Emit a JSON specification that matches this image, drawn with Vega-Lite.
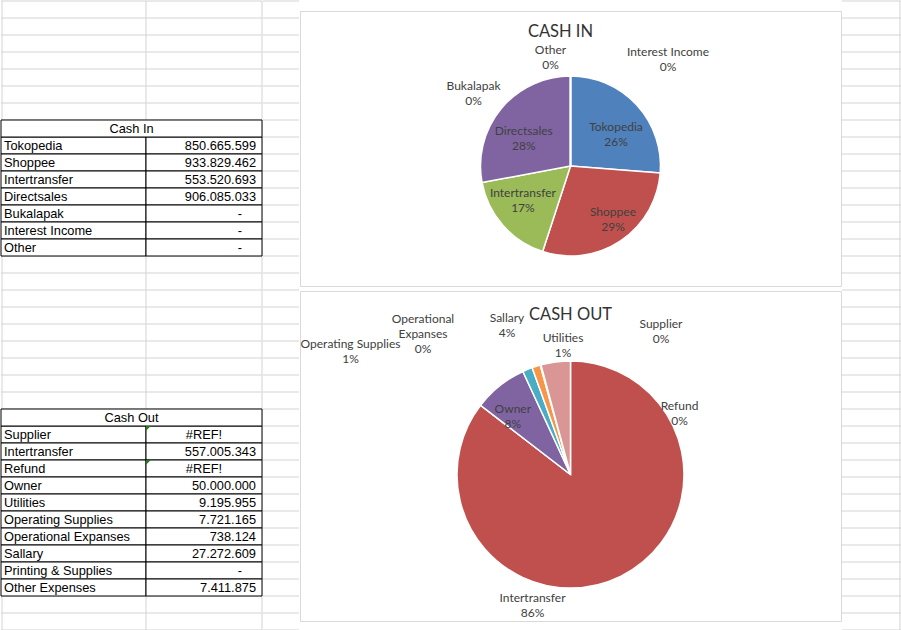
{
  "$schema": "https://vega.github.io/schema/vega-lite/v6.json",
  "background": "white",
  "padding": 0,
  "spacing": 0,
  "datasets": {
    "cash": [
      {"table": "Cash In", "item": "Cash In", "kind": "header", "value": "", "pct": "", "inChart": false},
      {"table": "Cash In", "item": "Tokopedia", "kind": "row", "value": "850.665.599", "amount": 850665599, "pct": "26%", "inChart": true},
      {"table": "Cash In", "item": "Shoppee", "kind": "row", "value": "933.829.462", "amount": 933829462, "pct": "29%", "inChart": true},
      {"table": "Cash In", "item": "Intertransfer", "kind": "row", "value": "553.520.693", "amount": 553520693, "pct": "17%", "inChart": true},
      {"table": "Cash In", "item": "Directsales", "kind": "row", "value": "906.085.033", "amount": 906085033, "pct": "28%", "inChart": true},
      {"table": "Cash In", "item": "Bukalapak", "kind": "row", "value": "-", "amount": 0, "pct": "0%", "inChart": true},
      {"table": "Cash In", "item": "Interest Income", "kind": "row", "value": "-", "amount": 0, "pct": "0%", "inChart": true},
      {"table": "Cash In", "item": "Other", "kind": "row", "value": "-", "amount": 0, "pct": "0%", "inChart": true},
      {"table": "Cash Out", "item": "Cash Out", "kind": "header", "value": "", "pct": "", "inChart": false},
      {"table": "Cash Out", "item": "Supplier", "kind": "row", "value": "#REF!", "amount": 0, "pct": "0%", "inChart": true},
      {"table": "Cash Out", "item": "Intertransfer", "kind": "row", "value": "557.005.343", "amount": 557005343, "pct": "86%", "inChart": true},
      {"table": "Cash Out", "item": "Refund", "kind": "row", "value": "#REF!", "amount": 0, "pct": "0%", "inChart": true},
      {"table": "Cash Out", "item": "Owner", "kind": "row", "value": "50.000.000", "amount": 50000000, "pct": "8%", "inChart": true},
      {"table": "Cash Out", "item": "Utilities", "kind": "row", "value": "9.195.955", "amount": 9195955, "pct": "1%", "inChart": true},
      {"table": "Cash Out", "item": "Operating Supplies", "kind": "row", "value": "7.721.165", "amount": 7721165, "pct": "1%", "inChart": true},
      {"table": "Cash Out", "item": "Operational Expanses", "kind": "row", "value": "738.124", "amount": 738124, "pct": "0%", "inChart": true},
      {"table": "Cash Out", "item": "Sallary", "kind": "row", "value": "27.272.609", "amount": 27272609, "pct": "4%", "inChart": true},
      {"table": "Cash Out", "item": "Printing & Supplies", "kind": "row", "value": "-", "amount": 0, "pct": "", "inChart": false},
      {"table": "Cash Out", "item": "Other Expenses", "kind": "row", "value": "7.411.875", "amount": 7411875, "pct": "", "inChart": false}
    ],
    "sheetRows": [
      {"key": "b1"}, {"key": "b2"}, {"key": "b3"}, {"key": "b4"}, {"key": "b5"}, {"key": "b6"}, {"key": "b7"},
      {"key": "Cash In: Cash In"}, {"key": "Cash In: Tokopedia"}, {"key": "Cash In: Shoppee"}, {"key": "Cash In: Intertransfer"}, {"key": "Cash In: Directsales"}, {"key": "Cash In: Bukalapak"}, {"key": "Cash In: Interest Income"}, {"key": "Cash In: Other"},
      {"key": "b8"}, {"key": "b9"}, {"key": "b10"}, {"key": "b11"}, {"key": "b12"}, {"key": "b13"}, {"key": "b14"}, {"key": "b15"}, {"key": "b16"},
      {"key": "Cash Out: Cash Out"}, {"key": "Cash Out: Supplier"}, {"key": "Cash Out: Intertransfer"}, {"key": "Cash Out: Refund"}, {"key": "Cash Out: Owner"}, {"key": "Cash Out: Utilities"}, {"key": "Cash Out: Operating Supplies"}, {"key": "Cash Out: Operational Expanses"}, {"key": "Cash Out: Sallary"}, {"key": "Cash Out: Printing & Supplies"}, {"key": "Cash Out: Other Expenses"},
      {"key": "b17"}, {"key": "b18"}
    ]
  },
  "config": {
    "view": {"stroke": null},
    "text": {"font": "Lato", "fontSize": 12, "color": "#404040", "lineBreak": "\n", "lineHeight": 15, "baseline": "middle"}
  },
  "resolve": {"scale": {"color": "independent", "x": "independent", "y": "independent"}},
  "hconcat": [
    {
      "width": 261,
      "height": 629,
      "layer": [
        {"data": {"name": "sheetRows"},
          "mark": {"type": "tick", "orient": "horizontal", "size": 261, "thickness": 1, "color": "#D4D4D4", "opacity": 1},
          "encoding": {"y": {"field": "key", "type": "nominal", "bandPosition": 0,
            "scale": {"type": "band", "paddingInner": 0, "paddingOuter": 0, "domain": ["b1","b2","b3","b4","b5","b6","b7","Cash In: Cash In","Cash In: Tokopedia","Cash In: Shoppee","Cash In: Intertransfer","Cash In: Directsales","Cash In: Bukalapak","Cash In: Interest Income","Cash In: Other","b8","b9","b10","b11","b12","b13","b14","b15","b16","Cash Out: Cash Out","Cash Out: Supplier","Cash Out: Intertransfer","Cash Out: Refund","Cash Out: Owner","Cash Out: Utilities","Cash Out: Operating Supplies","Cash Out: Operational Expanses","Cash Out: Sallary","Cash Out: Printing & Supplies","Cash Out: Other Expenses","b17","b18"]},
            "axis": null}}},
        {"data": {"name": "sheetRows"},
          "transform": [{"filter": "datum.key == 'b18'"}],
          "mark": {"type": "tick", "orient": "horizontal", "size": 261, "thickness": 1, "color": "#D4D4D4", "opacity": 1},
          "encoding": {"y": {"field": "key", "type": "nominal", "bandPosition": 1, "axis": null}}},
        {"data": {"values": [{}]},
          "mark": {"type": "tick", "orient": "vertical", "size": 629, "thickness": 1, "color": "#D4D4D4", "opacity": 1},
          "encoding": {"x": {"datum": 0.004, "type": "quantitative", "scale": {"domain": [0, 1]}, "axis": null}}},
        {"data": {"values": [{}]},
          "mark": {"type": "tick", "orient": "vertical", "size": 629, "thickness": 1, "color": "#D4D4D4", "opacity": 1},
          "encoding": {"x": {"datum": 0.55556, "type": "quantitative", "scale": {"domain": [0, 1]}, "axis": null}}},
        {"data": {"values": [{}]},
          "mark": {"type": "tick", "orient": "vertical", "size": 629, "thickness": 1, "color": "#D4D4D4", "opacity": 1},
          "encoding": {"x": {"datum": 1, "type": "quantitative", "scale": {"domain": [0, 1]}, "axis": null}}},
        {"data": {"name": "cash"},
          "transform": [{"calculate": "datum.table + ': ' + datum.item", "as": "key"}],
          "encoding": {"y": {"field": "key", "type": "nominal", "axis": null}},
          "layer": [
            {"transform": [{"filter": "datum.kind == 'row'"}],
              "mark": {"type": "rect", "fill": "white", "stroke": "#000000", "strokeWidth": 1},
              "encoding": {
                "x": {"datum": 0, "type": "quantitative", "scale": {"domain": [0, 1]}, "axis": null},
                "x2": {"datum": 0.55556}
              }},
            {"transform": [{"filter": "datum.kind == 'row'"}],
              "mark": {"type": "rect", "fill": "white", "stroke": "#000000", "strokeWidth": 1},
              "encoding": {
                "x": {"datum": 0.55556, "type": "quantitative", "scale": {"domain": [0, 1]}, "axis": null},
                "x2": {"datum": 1}
              }},
            {"transform": [{"filter": "datum.kind == 'header'"}],
              "mark": {"type": "rect", "fill": "white", "stroke": "#000000", "strokeWidth": 1},
              "encoding": {
                "x": {"datum": 0, "type": "quantitative", "scale": {"domain": [0, 1]}, "axis": null},
                "x2": {"datum": 1}
              }},
            {"transform": [{"filter": "datum.kind == 'row'"}],
              "mark": {"type": "text", "align": "left", "dx": 3, "font": "Liberation Sans", "fontSize": 12.8, "color": "#000000"},
              "encoding": {"x": {"datum": 0, "type": "quantitative", "scale": {"domain": [0, 1]}, "axis": null}, "text": {"field": "item"}}},
            {"transform": [{"filter": "datum.kind == 'header'"}],
              "mark": {"type": "text", "align": "center", "font": "Liberation Sans", "fontSize": 12.8, "color": "#000000"},
              "encoding": {"x": {"datum": 0.5, "type": "quantitative", "scale": {"domain": [0, 1]}, "axis": null}, "text": {"field": "item"}}},
            {"transform": [{"filter": "datum.kind == 'row' && datum.value != '-' && datum.value != '#REF!'"}],
              "mark": {"type": "text", "align": "right", "dx": -6, "font": "Liberation Sans", "fontSize": 12.8, "color": "#000000"},
              "encoding": {"x": {"datum": 1, "type": "quantitative", "scale": {"domain": [0, 1]}, "axis": null}, "text": {"field": "value"}}},
            {"transform": [{"filter": "datum.value == '#REF!'"}],
              "mark": {"type": "text", "align": "center", "font": "Liberation Sans", "fontSize": 12.8, "color": "#000000"},
              "encoding": {"x": {"datum": 0.77778, "type": "quantitative", "scale": {"domain": [0, 1]}, "axis": null}, "text": {"field": "value"}}},
            {"transform": [{"filter": "datum.value == '-'"}],
              "mark": {"type": "text", "align": "right", "dx": -20, "font": "Liberation Sans", "fontSize": 12.8, "color": "#000000"},
              "encoding": {"x": {"datum": 1, "type": "quantitative", "scale": {"domain": [0, 1]}, "axis": null}, "text": {"field": "value"}}},
            {"transform": [{"filter": "datum.value == '#REF!'"}],
              "mark": {"type": "point", "shape": "M0,0L1,0L0,1Z", "filled": true, "size": 90, "color": "#1E7B1E", "opacity": 1, "strokeWidth": 0},
              "encoding": {
                "x": {"datum": 0.55556, "type": "quantitative", "scale": {"domain": [0, 1]}, "axis": null},
                "y": {"field": "key", "type": "nominal", "bandPosition": 0, "axis": null}
              }}
          ]
        }
      ]
    },
    {
      "width": 36,
      "height": 629,
      "data": {"name": "sheetRows"},
      "layer": [
        {"mark": {"type": "tick", "orient": "horizontal", "size": 36, "thickness": 1, "color": "#D4D4D4", "opacity": 1},
          "encoding": {"y": {"field": "key", "type": "nominal", "bandPosition": 0,
            "scale": {"type": "band", "paddingInner": 0, "paddingOuter": 0, "domain": ["b1","b2","b3","b4","b5","b6","b7","Cash In: Cash In","Cash In: Tokopedia","Cash In: Shoppee","Cash In: Intertransfer","Cash In: Directsales","Cash In: Bukalapak","Cash In: Interest Income","Cash In: Other","b8","b9","b10","b11","b12","b13","b14","b15","b16","Cash Out: Cash Out","Cash Out: Supplier","Cash Out: Intertransfer","Cash Out: Refund","Cash Out: Owner","Cash Out: Utilities","Cash Out: Operating Supplies","Cash Out: Operational Expanses","Cash Out: Sallary","Cash Out: Printing & Supplies","Cash Out: Other Expenses","b17","b18"]},
            "axis": null}}},
        {"transform": [{"filter": "datum.key == 'b18'"}],
          "mark": {"type": "tick", "orient": "horizontal", "size": 36, "thickness": 1, "color": "#D4D4D4", "opacity": 1},
          "encoding": {"y": {"field": "key", "type": "nominal", "bandPosition": 1, "axis": null}}}
      ]
    },
    {
      "vconcat": [
        {
          "width": 541,
          "height": 5,
          "data": {"values": [{}]},
          "view": {"stroke": null},
          "mark": {"type": "point", "opacity": 0},
          "encoding": {}
        },
        {
          "width": 541,
          "height": 275,
          "view": {"stroke": "#D9D9D9", "fill": "white"},
          "title": {"text": "CASH IN", "offset": -37, "baseline": "middle", "dx": -10, "anchor": "middle", "frame": "group", "font": "Lato", "fontSize": 16.5, "fontWeight": "normal", "color": "#333333"},
          "data": {"name": "cash"},
          "transform": [
            {"filter": "datum.table == 'Cash In' && datum.inChart"},
            {"window": [{"op": "row_number", "as": "idx"}]},
            {"calculate": "datum.item + '\\n' + datum.pct", "as": "label"}
          ],
          "layer": [
            {"mark": {"type": "arc", "radius": 90, "y": 155, "stroke": "white", "strokeWidth": 1.5},
              "encoding": {
                "theta": {"field": "amount", "type": "quantitative", "stack": true},
                "order": {"field": "idx", "type": "quantitative"},
                "color": {"field": "item", "type": "nominal", "legend": null,
                  "scale": {"domain": ["Tokopedia","Shoppee","Intertransfer","Directsales","Bukalapak","Interest Income","Other"],
                    "range": ["#4F81BD","#C0504D","#9BBB59","#8064A2","#4BACC6","#F79646","#2C4D75"]}}
              }},
            {"mark": {"type": "text", "radius": 62, "y": 155, "dy": 3},
              "encoding": {"theta": {"field": "amount", "type": "quantitative", "stack": true}, "order": {"field": "idx", "type": "quantitative"},
                "text": {"condition": {"test": "datum.item == 'Tokopedia'", "field": "label"}, "value": ""}}},
            {"mark": {"type": "text", "radius": 62, "y": 155, "dx": 8, "dy": -6},
              "encoding": {"theta": {"field": "amount", "type": "quantitative", "stack": true}, "order": {"field": "idx", "type": "quantitative"},
                "text": {"condition": {"test": "datum.item == 'Shoppee'", "field": "label"}, "value": ""}}},
            {"mark": {"type": "text", "radius": 62, "y": 155, "dx": -1, "dy": -14},
              "encoding": {"theta": {"field": "amount", "type": "quantitative", "stack": true}, "order": {"field": "idx", "type": "quantitative"},
                "text": {"condition": {"test": "datum.item == 'Intertransfer'", "field": "label"}, "value": ""}}},
            {"mark": {"type": "text", "radius": 62, "y": 155, "dx": 1, "dy": 4.5},
              "encoding": {"theta": {"field": "amount", "type": "quantitative", "stack": true}, "order": {"field": "idx", "type": "quantitative"},
                "text": {"condition": {"test": "datum.item == 'Directsales'", "field": "label"}, "value": ""}}},
            {"transform": [{"filter": "datum.item == 'Other'"}],
              "mark": {"type": "text", "y": 155, "dx": -20, "dy": -116.5},
              "encoding": {"text": {"field": "label"}}},
            {"transform": [{"filter": "datum.item == 'Interest Income'"}],
              "mark": {"type": "text", "y": 155, "dx": 97.5, "dy": -114},
              "encoding": {"text": {"field": "label"}}},
            {"transform": [{"filter": "datum.item == 'Bukalapak'"}],
              "mark": {"type": "text", "y": 155, "dx": -97, "dy": -80},
              "encoding": {"text": {"field": "label"}}}
          ]
        },
        {
          "width": 541,
          "height": 330,
          "view": {"stroke": "#D9D9D9", "fill": "white"},
          "title": {"text": "CASH OUT", "offset": -40, "baseline": "middle", "anchor": "middle", "frame": "group", "font": "Lato", "fontSize": 16.5, "fontWeight": "normal", "color": "#333333"},
          "data": {"name": "cash"},
          "transform": [
            {"filter": "datum.table == 'Cash Out' && datum.inChart"},
            {"window": [{"op": "row_number", "as": "idx"}]},
            {"calculate": "datum.item + '\\n' + datum.pct", "as": "label"}
          ],
          "layer": [
            {"mark": {"type": "arc", "radius": 113.5, "y": 183.5, "stroke": "white", "strokeWidth": 1.5},
              "encoding": {
                "theta": {"field": "amount", "type": "quantitative", "stack": true},
                "order": {"field": "idx", "type": "quantitative"},
                "color": {"field": "item", "type": "nominal", "legend": null,
                  "scale": {"domain": ["Supplier","Intertransfer","Refund","Owner","Utilities","Operating Supplies","Operational Expanses","Sallary"],
                    "range": ["#4F81BD","#C0504D","#9BBB59","#8064A2","#4BACC6","#F79646","#95B3D7","#D99694"]}}
              }},
            {"mark": {"type": "text", "radius": 86, "y": 183.5, "dx": -4, "dy": 2},
              "encoding": {
                "theta": {"field": "amount", "type": "quantitative", "stack": true},
                "order": {"field": "idx", "type": "quantitative"},
                "text": {"condition": {"test": "datum.item == 'Owner'", "field": "label"}, "value": ""}
              }},
            {"transform": [{"filter": "datum.item == 'Operational Expanses'"}, {"calculate": "replace(datum.item, ' ', '\\n') + '\\n' + datum.pct", "as": "label3"}],
              "mark": {"type": "text", "y": 183.5, "dx": -147.5, "dy": -155.5},
              "encoding": {"text": {"field": "label3"}}},
            {"transform": [{"filter": "datum.item == 'Operating Supplies'"}],
              "mark": {"type": "text", "y": 183.5, "dx": -220, "dy": -130.5},
              "encoding": {"text": {"field": "label"}}},
            {"transform": [{"filter": "datum.item == 'Sallary'"}],
              "mark": {"type": "text", "y": 183.5, "dx": -63.5, "dy": -156.5},
              "encoding": {"text": {"field": "label"}}},
            {"transform": [{"filter": "datum.item == 'Utilities'"}],
              "mark": {"type": "text", "y": 183.5, "dx": -7.5, "dy": -136.5},
              "encoding": {"text": {"field": "label"}}},
            {"transform": [{"filter": "datum.item == 'Supplier'"}],
              "mark": {"type": "text", "y": 183.5, "dx": 90.5, "dy": -150.5},
              "encoding": {"text": {"field": "label"}}},
            {"transform": [{"filter": "datum.item == 'Refund'"}],
              "mark": {"type": "text", "y": 183.5, "dx": 109, "dy": -68.5},
              "encoding": {"text": {"field": "label"}}},
            {"transform": [{"filter": "datum.item == 'Intertransfer'"}],
              "mark": {"type": "text", "y": 183.5, "dx": -38, "dy": 123.5},
              "encoding": {"text": {"field": "label"}}}
          ]
        }
      ],
      "spacing": 5,
      "bounds": "flush",
      "resolve": {"scale": {"color": "independent", "theta": "independent"}}
    },
    {
      "width": 61,
      "height": 629,
      "data": {"name": "sheetRows"},
      "layer": [
        {"mark": {"type": "tick", "orient": "horizontal", "size": 61, "thickness": 1, "color": "#D4D4D4", "opacity": 1},
          "encoding": {"y": {"field": "key", "type": "nominal", "bandPosition": 0,
            "scale": {"type": "band", "paddingInner": 0, "paddingOuter": 0, "domain": ["b1","b2","b3","b4","b5","b6","b7","Cash In: Cash In","Cash In: Tokopedia","Cash In: Shoppee","Cash In: Intertransfer","Cash In: Directsales","Cash In: Bukalapak","Cash In: Interest Income","Cash In: Other","b8","b9","b10","b11","b12","b13","b14","b15","b16","Cash Out: Cash Out","Cash Out: Supplier","Cash Out: Intertransfer","Cash Out: Refund","Cash Out: Owner","Cash Out: Utilities","Cash Out: Operating Supplies","Cash Out: Operational Expanses","Cash Out: Sallary","Cash Out: Printing & Supplies","Cash Out: Other Expenses","b17","b18"]},
            "axis": null}}},
        {"transform": [{"filter": "datum.key == 'b18'"}],
          "mark": {"type": "tick", "orient": "horizontal", "size": 61, "thickness": 1, "color": "#D4D4D4", "opacity": 1},
          "encoding": {"y": {"field": "key", "type": "nominal", "bandPosition": 1, "axis": null}}},
        {"transform": [{"filter": "datum.key == 'b1'"}],
          "mark": {"type": "tick", "orient": "vertical", "size": 629, "thickness": 1, "color": "#D4D4D4", "opacity": 1},
          "encoding": {"x": {"datum": 0.95, "type": "quantitative", "scale": {"domain": [0, 1]}, "axis": null}}}
      ]
    }
  ]
}
